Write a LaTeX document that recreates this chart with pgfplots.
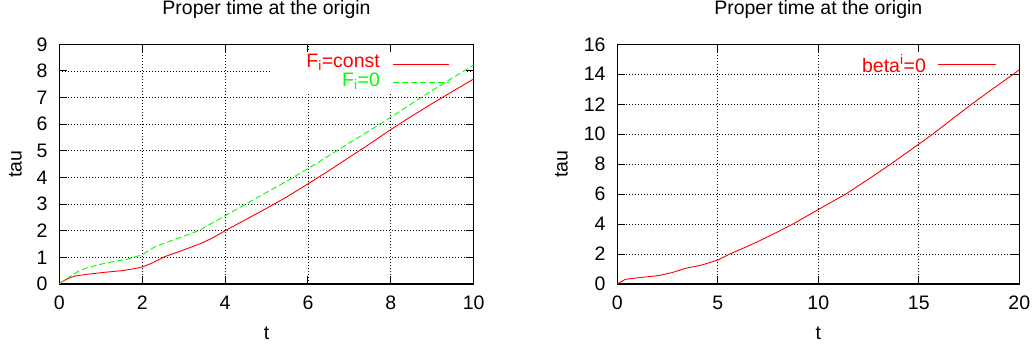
\documentclass[border=0pt]{standalone}
\usepackage{pgfplots}
\pgfplotsset{compat=1.18}
\usepackage{fontspec}
\setmainfont{Liberation Sans}

\definecolor{gpred}{RGB}{255,0,0}
\definecolor{gpgreen}{RGB}{0,255,0}

\tikzset{
  keytext/.style={anchor=base east, inner sep=0pt},
}

\pgfplotsset{
  gp/.style={
    scale only axis,
    anchor=south west,
    height=239.7pt,
    ymin=0,
    xmin=0,
    /pgf/number format/assume math mode=true,
    tick align=inside,
    major tick length=8pt,
    every tick/.style={black, line width=0.9pt},
    axis line style={black, line width=1.1pt},
    grid=major,
    grid style={black, line width=0.8pt, dash pattern=on 0.8pt off 2.2pt},
    title={Proper time at the origin},
    title style={at={(0.5,1)}, anchor=base, yshift=23.6pt, inner sep=0pt},
    xlabel={t},
    ylabel={tau},
    xlabel style={at={(axis description cs:0.5,0)}, anchor=base, yshift=-56pt, inner sep=0pt},
    xticklabel style={anchor=base, yshift=-26pt, inner sep=0pt},
    yticklabel style={anchor=east, xshift=-11.6pt, inner sep=0pt},
  },
}

\begin{document}
\begin{tikzpicture}[font=\fontsize{19.5}{23}\selectfont]
\path[use as bounding box] (0,0) rectangle (1034pt,348pt);

% Left panel: two forcing choices
\begin{axis}[gp,
  at={(59.3pt,64pt)},
  width=414.4pt,
  xmax=10, ymax=9,
  xtick={0,2,...,10},
  ytick={0,1,...,9},
  every axis y label/.style={at={(axis description cs:0,0.5)}, xshift=-37.6pt, rotate=90, anchor=base, inner sep=0pt},
]
% key area kept clear of grid lines
\fill[white] (axis cs:5.1,7.12) rectangle (axis cs:9.8,8.7);
\addplot[draw=gpred, line width=0.9pt] coordinates {
  (0,0) (0.1,0.12) (0.22,0.21) (0.38,0.3) (0.7,0.37) (1.1,0.44) (1.5,0.5)
  (1.8,0.57) (2.0,0.64) (2.23,0.78) (2.55,1.03) (2.95,1.25) (3.43,1.53)
  (3.7,1.73) (4.0,2.0) (4.5,2.42) (5.0,2.84) (5.5,3.28) (6.0,3.76)
  (6.5,4.25) (7.0,4.76) (7.5,5.27) (8.0,5.8) (8.5,6.3) (9.0,6.78)
  (9.5,7.24) (10.0,7.7)
};
\addplot[draw=gpgreen, line width=0.9pt, dash pattern=on 6pt off 3pt] coordinates {
  (0,0) (0.1,0.12) (0.25,0.27) (0.46,0.48) (0.7,0.62) (1.1,0.78) (1.67,0.94)
  (2.0,1.1) (2.31,1.4) (2.71,1.63) (3.36,2.0) (4.0,2.56) (4.5,3.0)
  (5.0,3.44) (5.5,3.87) (6.0,4.33) (6.5,4.81) (7.0,5.3) (7.5,5.77)
  (8.0,6.26) (8.5,6.77) (9.0,7.27) (9.5,7.75) (10.0,8.22)
};
% key
\draw[draw=gpred, line width=0.9pt] (axis description cs:0.805,0.917) -- (axis description cs:0.940,0.917);
\draw[draw=gpgreen, line width=0.9pt, dash pattern=on 6pt off 3pt] (axis description cs:0.805,0.840) -- (axis description cs:0.940,0.840);
\node[keytext, text=gpred] at (axis description cs:0.774,0.904) {F\textsubscript{i}=const};
\node[keytext, text=gpgreen] at (axis description cs:0.774,0.823) {F\textsubscript{i}=0};
\end{axis}

% Right panel: beta^i = 0
\begin{axis}[gp,
  at={(617.3pt,64pt)},
  width=402pt,
  xmax=20, ymax=16,
  xtick={0,5,...,20},
  ytick={0,2,...,16},
  every axis y label/.style={at={(axis description cs:0,0.5)}, xshift=-49.6pt, rotate=90, anchor=base, inner sep=0pt},
]
% key area kept clear of grid lines
\fill[white] (axis cs:11.8,14.05) rectangle (axis cs:19.6,15.47);
\addplot[draw=gpred, line width=0.9pt] coordinates {
  (0,0) (0.15,0.12) (0.4,0.31) (1.06,0.42) (2.05,0.56) (2.72,0.76)
  (3.38,1.04) (4.21,1.27) (5.0,1.6) (5.6,2.0) (6.87,2.75) (7.8,3.36)
  (8.73,4.0) (10.0,4.97) (11.36,6.0) (12.5,7.0) (13.6,8.0) (14.65,9.0)
  (15.69,10.0) (16.65,11.0) (17.63,12.0) (18.65,13.0) (19.7,14.0) (20,14.3)
};
% key
\draw[draw=gpred, line width=0.9pt] (axis description cs:0.7985,0.917) -- (axis description cs:0.941,0.917);
\node[keytext, text=gpred] at (axis description cs:0.768,0.883) {beta\textsuperscript{i}=0};
\end{axis}
\end{tikzpicture}
\end{document}
